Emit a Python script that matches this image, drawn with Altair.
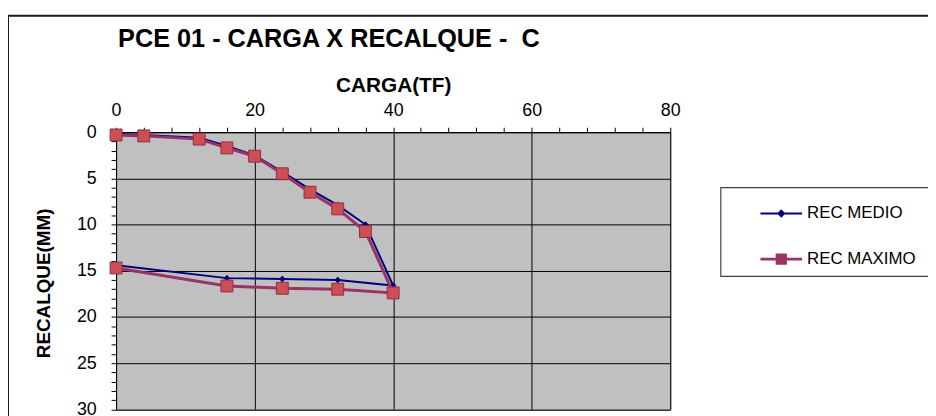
import altair as alt
import pandas as pd

# ---- data ----
carga = [0, 4, 12, 16, 20, 24, 28, 32, 36, 40, 32, 24, 16, 0]
rec_medio = [0.2, 0.3, 0.6, 1.5, 2.5, 4.3, 6.2, 7.9, 10.0, 16.6, 16.0, 15.9, 15.8, 14.4]
rec_maximo = [0.3, 0.4, 0.75, 1.7, 2.6, 4.5, 6.5, 8.3, 10.75, 17.4, 17.0, 16.9, 16.65, 14.7]
series = ["REC MEDIO", "REC MAXIMO"]
x_ticks = list(range(0, 81, 4))
y_ticks = list(range(0, 31))

rows = []
for i, c in enumerate(carga):
    rows.append({"carga": c, "recalque": rec_medio[i], "serie": series[0], "ordem": i})
for i, c in enumerate(carga):
    rows.append({"carga": c, "recalque": rec_maximo[i], "serie": series[1], "ordem": i})
df = pd.DataFrame(rows)

FONT = "Liberation Sans, Arial, sans-serif"
NAVY = "#000080"
PURPLE = "#993366"
RED_FILL = "#CD4F55"

x_axis = alt.Axis(
    orient="top", values=x_ticks, title="CARGA(TF)",
    labelExpr="datum.value % 20 == 0 ? datum.label : ''",
    gridOpacity={"condition": {"test": "datum.value % 20 == 0", "value": 1}, "value": 0},
    labelFlush=False, labelOverlap=False, tickSize=5, labelPadding=12,
    labelBaseline="alphabetic", labelFontSize=18,
    titleFontSize=21, titleFontWeight="bold", titleBaseline="alphabetic",
    titleY=-41,
)
y_axis = alt.Axis(
    orient="left", values=y_ticks, title="RECALQUE(MM)",
    labelExpr="datum.value % 5 == 0 ? datum.label : ''",
    gridOpacity={"condition": {"test": "datum.value % 5 == 0", "value": 1}, "value": 0},
    labelFlush=False, labelOverlap=False, tickSize=5, labelPadding=15,
    labelFontSize=18,
    titleFontSize=19, titleFontWeight="bold", titleBaseline="alphabetic",
    titleX=-67, titleY=152,
)

x_enc = alt.X("carga:Q", scale=alt.Scale(domain=[0, 80], nice=False), axis=x_axis)
y_enc = alt.Y("recalque:Q", scale=alt.Scale(domain=[0, 30], reverse=True, nice=False), axis=y_axis)

base = alt.Chart(df)

# legend built from the series through the colour / shape scales
legend = alt.Legend(
    title=None, orient="none", legendX=649, legendY=60, padding=0,
    symbolSize=1764, symbolOpacity=1, labelFont=FONT, labelFontSize=17,
    labelColor="black", rowPadding=16, labelOffset=4,
)
path_medio = "M-1,-0.05H1V0.05H-1Z M0,-0.2L0.2,0L0,0.2L-0.2,0Z"
path_maximo = "M-1,-0.07H1V0.07H-1Z M-0.27,-0.27H0.27V0.27H-0.27Z"
legend_layer = base.mark_point(filled=True, opacity=0, size=1764).encode(
    x=x_enc, y=y_enc,
    color=alt.Color("serie:N", scale=alt.Scale(domain=series, range=[NAVY, PURPLE]), legend=legend),
    shape=alt.Shape("serie:N", scale=alt.Scale(domain=series, range=[path_medio, path_maximo]), legend=legend),
)

medio = base.transform_filter(alt.datum.serie == series[0])
maximo = base.transform_filter(alt.datum.serie == series[1])

line_medio = medio.mark_line(color=NAVY, strokeWidth=2).encode(x=x_enc, y=y_enc, order="ordem:Q")
pts_medio = medio.mark_point(shape="diamond", filled=True, size=45, color=NAVY, opacity=1).encode(x=x_enc, y=y_enc)
line_maximo = maximo.mark_line(color=PURPLE, strokeWidth=3).encode(x=x_enc, y=y_enc, order="ordem:Q")
pts_maximo = maximo.mark_point(shape="square", filled=True, size=144, fill=RED_FILL,
                               stroke="#8E2F45", strokeWidth=1, opacity=1).encode(x=x_enc, y=y_enc)

one = alt.Data(values=[{"k": 1}])
frame = alt.Chart(one).mark_rect(fillOpacity=0, stroke="#1a1a1a", strokeWidth=2).encode(
    x=alt.value(-109), x2=alt.value(839), y=alt.value(-117.5), y2=alt.value(305))
legend_box = alt.Chart(one).mark_rect(fillOpacity=0, stroke="#444444", strokeWidth=1.2).encode(
    x=alt.value(610), x2=alt.value(835), y=alt.value(56), y2=alt.value(145.5))

chart = alt.layer(
    legend_layer, frame, legend_box, line_medio, pts_medio, line_maximo, pts_maximo
).properties(
    width=559, height=279.5,
    autosize=alt.AutoSizeParams(type="none"),
    padding={"left": 109, "top": 123.5, "right": 260, "bottom": 5},
    title=alt.TitleParams(
        "PCE 01 - CARGA X RECALQUE - \u00a0C", anchor="start", frame="group",
        fontSize=25.5, font=FONT, fontWeight="bold", color="black",
        offset=0, dx=2, dy=58, baseline="alphabetic",
    ),
).configure_view(
    stroke="#808080", strokeWidth=1, fill="#C0C0C0"
).configure_axis(
    domainColor="black", tickColor="black", gridColor="black", gridWidth=1,
    labelColor="black", titleColor="black", labelFont=FONT, titleFont=FONT,
)

chart.save("out.html", embed_options={"renderer": "svg", "actions": False})
